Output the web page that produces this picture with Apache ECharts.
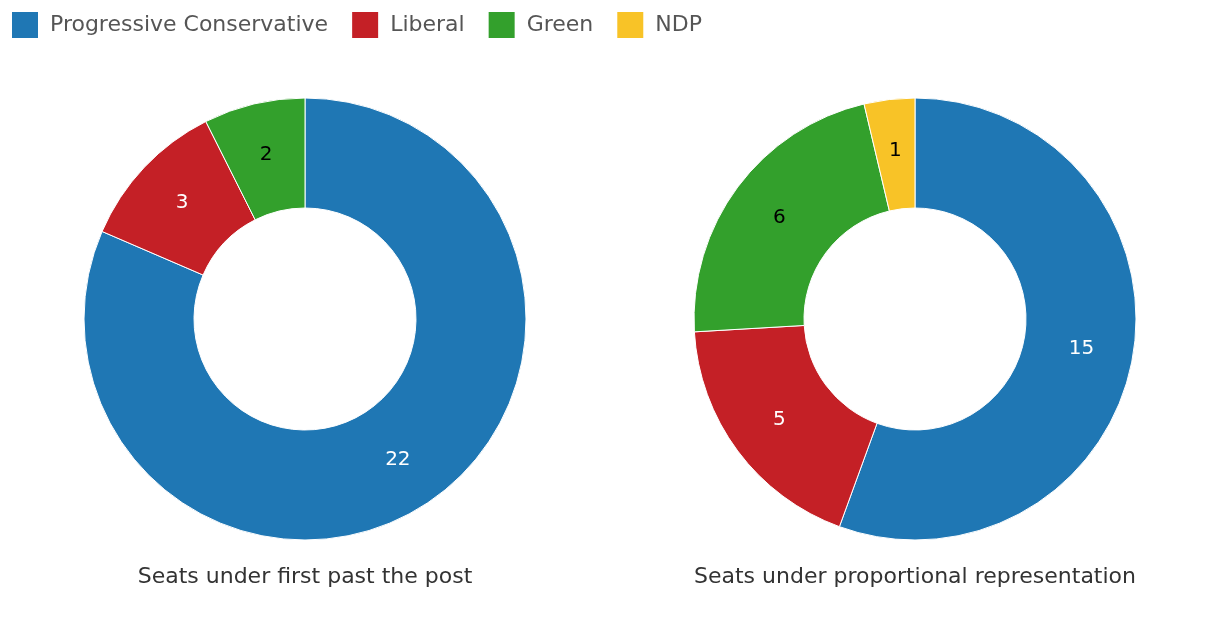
<!DOCTYPE html>
<html>
<head>
<meta charset="utf-8">
<script src="https://cdn.jsdelivr.net/npm/echarts@6/dist/echarts.min.js"></script>
<style>
  html, body { margin: 0; padding: 0; background: #fff; }
  #chart { width: 1220px; height: 618px; }
</style>
</head>
<body>
<div id="chart"></div>
<script>
// parties and seats
const parties = ['Progressive Conservative', 'Liberal', 'Green', 'NDP'];
const partyColors = ['#1f77b4', '#c42026', '#33a02c', '#f8c327'];
const labelColors = ['#fff', '#fff', '#000', '#000'];

const fptpSeats = [22, 3, 2, 0];
const propSeats = [15, 5, 6, 1];

const chartTitles = ['Seats under first past the post', 'Seats under proportional representation'];

const FONT = 'DejaVu Sans';

function buildData(seats) {
  const out = [];
  for (let i = 0; i < parties.length; i++) {
    if (!seats[i]) continue;
    out.push({
      name: parties[i],
      value: seats[i],
      itemStyle: { color: partyColors[i] },
      label: { color: labelColors[i] }
    });
  }
  return out;
}

function buildPie(seats, cx) {
  return {
    type: 'pie',
    center: [cx, 319],
    radius: [111, 221],
    startAngle: 90,
    clockwise: true,
    avoidLabelOverlap: false,
    label: {
      show: true,
      position: 'inside',
      formatter: '{c}',
      fontFamily: FONT,
      fontSize: 20,
      lineHeight: 26,
      padding: [6, 0, 0, 0]
    },
    labelLine: { show: false },
    itemStyle: { borderColor: '#fff', borderWidth: 1 },
    emphasis: { disabled: true },
    data: buildData(seats)
  };
}

const myChart = echarts.init(document.getElementById('chart'));
myChart.setOption({
  animation: false,
  color: partyColors,
  legend: {
    left: 10,
    top: 10,
    padding: 0,
    itemWidth: 28,
    itemHeight: 28,
    itemGap: 22,
    icon: 'rect',
    data: parties,
    textStyle: {
      color: '#555',
      fontFamily: FONT,
      fontSize: 22,
      padding: [4, 0, 0, 6]
    }
  },
  title: [
    {
      text: chartTitles[0],
      left: 305,
      top: 566,
      padding: 0,
      textAlign: 'center',
      textStyle: { color: '#333', fontFamily: FONT, fontSize: 22, fontWeight: 'normal' }
    },
    {
      text: chartTitles[1],
      left: 915,
      top: 566,
      padding: 0,
      textAlign: 'center',
      textStyle: { color: '#333', fontFamily: FONT, fontSize: 22, fontWeight: 'normal' }
    }
  ],
  series: [buildPie(fptpSeats, 305), buildPie(propSeats, 915)]
});
</script>
</body>
</html>
